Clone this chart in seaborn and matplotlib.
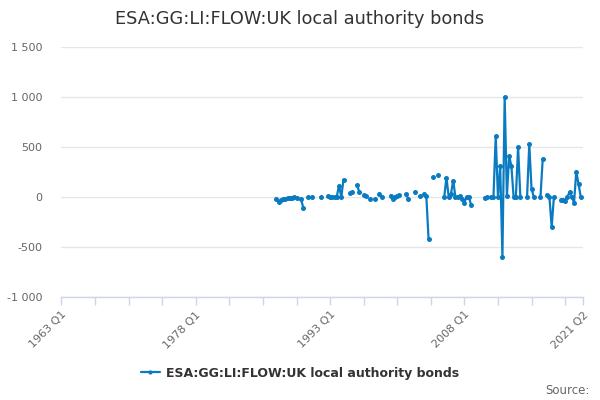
import numpy as np
import pandas as pd
import matplotlib
matplotlib.use('Agg')
import matplotlib.pyplot as plt
from matplotlib.lines import Line2D
import seaborn as sns

title = 'ESA:GG:LI:FLOW:UK local authority bonds'
first_year = 1963
last_period = '2021 Q2'

periods = ['1987 Q1', '1987 Q2', '1987 Q3', '1987 Q4', '1988 Q1', '1988 Q2', '1988 Q3', '1988 Q4',
           '1989 Q1', '1989 Q2', '1989 Q4', '1990 Q1', '1990 Q3', '1991 Q1', '1992 Q1', '1992 Q4',
           '1993 Q1', '1993 Q2', '1993 Q3', '1993 Q4', '1994 Q1', '1994 Q2', '1994 Q3', '1995 Q2',
           '1995 Q3', '1996 Q1', '1996 Q2', '1996 Q4', '1997 Q1', '1997 Q3', '1998 Q1', '1998 Q3',
           '1998 Q4', '1999 Q4', '2000 Q1', '2000 Q2', '2000 Q3', '2000 Q4', '2001 Q3', '2001 Q4',
           '2002 Q3', '2003 Q1', '2003 Q3', '2003 Q4', '2004 Q1', '2004 Q3', '2005 Q1', '2005 Q4',
           '2006 Q1', '2006 Q2', '2006 Q3', '2006 Q4', '2007 Q1', '2007 Q2', '2007 Q3', '2007 Q4',
           '2008 Q1', '2008 Q2', '2008 Q3', '2008 Q4', '2010 Q2', '2010 Q3', '2011 Q1', '2011 Q2',
           '2011 Q3', '2011 Q4', '2012 Q1', '2012 Q2', '2012 Q3', '2012 Q4', '2013 Q1', '2013 Q2',
           '2013 Q3', '2013 Q4', '2014 Q1', '2014 Q2', '2015 Q1', '2015 Q2', '2015 Q3', '2015 Q4',
           '2016 Q3', '2016 Q4', '2017 Q2', '2017 Q3', '2017 Q4', '2018 Q1', '2018 Q4', '2019 Q1',
           '2019 Q2', '2019 Q3', '2019 Q4', '2020 Q1', '2020 Q2', '2020 Q3', '2020 Q4', '2021 Q1']

values = [-15, -50, -30, -20, -15, -10, -10, -5,
          0, -5, -20, -105, 0, 0, 0, 10,
          5, 0, 0, 5, 115, 0, 175, 40,
          50, 120, 55, 20, 10, -15, -15, 35,
          5, 15, -20, 5, 15, 20, 30, -20,
          50, 10, 30, 10, -420, 200, 220, 0,
          195, 0, 30, 165, 0, 5, 10, -15,
          -55, 0, 0, -80, -5, 0, 0, 0,
          610, 0, 310, -597, 1000, 10, 410, 310,
          0, 0, 500, 0, 0, 530, 85, 0,
          0, 380, 20, 0, -300, 0, -30, -30,
          -40, 0, 50, 0, -55, 255, 130, 0]

tick_labels = ['1963 Q1', '1978 Q1', '1993 Q1', '2008 Q1', '2021 Q2']
y_ticks = [-1000, -500, 0, 500, 1000, 1500]

line_color = '#0a7bc1'


def period_index(p):
    year, q = p.split(' Q')
    return (int(year) - first_year) * 4 + int(q) - 1


df = pd.DataFrame({'period': periods, 'value': values})
df['idx'] = df['period'].map(period_index)
# break the line wherever a quarter is missing
df['seg'] = (df['idx'].diff() != 1).cumsum()

n_last = period_index(last_period)

sns.set_style('white')
plt.rcParams['font.family'] = ['DejaVu Sans']

fig = plt.figure(figsize=(6, 4), dpi=100)
ax = fig.add_axes([61.5 / 600, 1 - 297 / 400, (583 - 61.5) / 600, 250 / 400])

sns.lineplot(data=df, x='idx', y='value', units='seg', estimator=None,
             color=line_color, linewidth=1.6, marker='o', markersize=3.6,
             markeredgewidth=0, ax=ax, legend=False)

ax.set_xlim(0, n_last)
ax.set_ylim(-1000, 1500)
ax.set_yticks(y_ticks)
ax.set_yticklabels([f'{v:,}'.replace(',', ' ') for v in y_ticks], fontsize=8, color='#666666')
ax.grid(axis='y', color='#e6e6e6', linewidth=1)
ax.set_axisbelow(True)

minor = list(range(0, n_last, 15)) + [n_last]
ax.set_xticks(minor, minor=True)
ax.set_xticks([period_index(t) for t in tick_labels])
ax.set_xticklabels(tick_labels, rotation=45, ha='right', rotation_mode='anchor',
                   fontsize=8, color='#666666')
ax.tick_params(axis='x', which='both', bottom=True, direction='out', length=6,
               color='#ccd6eb', width=1, pad=3)
ax.tick_params(axis='y', length=0, pad=14)

for s in ['top', 'right', 'left']:
    ax.spines[s].set_visible(False)
ax.spines['bottom'].set_color('#ccd6eb')
ax.spines['bottom'].set_linewidth(1)
ax.set_xlabel('')
ax.set_ylabel('')

fig.text(0.5, 0.953, title, ha='center', va='center', fontsize=12.8, color='#333333')

handle = Line2D([0], [0], color=line_color, linewidth=1.6, marker='o', markersize=3,
                markeredgewidth=0)
leg = fig.legend([handle], [title], loc='center', bbox_to_anchor=(0.5, 0.067),
                 frameon=False, handlelength=1.5, handletextpad=0.5,
                 prop={'size': 9, 'weight': 'bold'})
for t in leg.get_texts():
    t.set_color('#333333')

fig.text(0.983, 0.025, 'Source:', ha='right', va='center', fontsize=8.5, color='#666666')

fig.savefig('out.png', dpi=100)
